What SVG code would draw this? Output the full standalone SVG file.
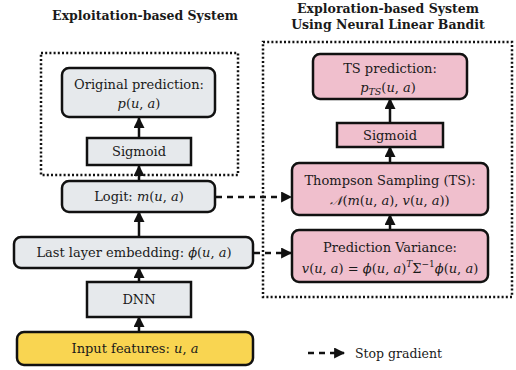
<svg xmlns="http://www.w3.org/2000/svg" width="516" height="370" viewBox="0 0 516 370">
<style>
text{font-family:"DejaVu Serif", serif;fill:#1a1a1a;}
.t{font-size:13px;text-anchor:middle;}
.h{font-size:12.5px;font-weight:bold;text-anchor:middle;}
.i{font-style:italic;}
.g{fill:#e6e9ec;stroke:#111;stroke-width:2.5;}
.p{fill:#f0bfcd;stroke:#111;stroke-width:2.5;}
.y{fill:#f9d551;stroke:#111;stroke-width:2.5;}
.dot{fill:none;stroke:#111;stroke-width:2.5;stroke-dasharray:2 2.2;}
.c{stroke:#111;stroke-width:2.5;marker-end:url(#ah2);}
.d{stroke:#111;stroke-width:2.5;stroke-dasharray:6 5;marker-end:url(#ah2);}
</style>
<defs>
<marker id="ah2" viewBox="0 0 10 10" refX="9" refY="5" markerWidth="4.4" markerHeight="4.4" orient="auto">
<path d="M0,0 L10,5 L0,10 z" fill="#111"/>
</marker>
</defs>

<text class="h" x="145" y="20">Exploitation-based System</text>
<text class="h" x="388" y="13">Exploration-based System</text>
<text class="h" x="388" y="29">Using Neural Linear Bandit</text>

<rect class="dot" x="41" y="53" width="197" height="122"/>
<rect class="dot" x="263" y="42" width="249" height="255"/>

<g id="connectors">
<line class="c" x1="139" y1="138" x2="139" y2="118"/>
<line class="c" x1="139" y1="181" x2="139" y2="166"/>
<line class="c" x1="139" y1="237" x2="139" y2="212"/>
<line class="c" x1="139" y1="282" x2="139" y2="268"/>
<line class="c" x1="139" y1="332" x2="139" y2="317"/>
<line class="c" x1="390" y1="123" x2="390" y2="99"/>
<line class="c" x1="390" y1="163" x2="390" y2="147"/>
<line class="c" x1="390" y1="230" x2="390" y2="215"/>
<line class="d" x1="216" y1="197" x2="291" y2="197"/>
<line class="d" x1="254" y1="253" x2="291" y2="253"/>
<line class="d" x1="308" y1="353" x2="344" y2="353"/>
</g>

<g id="orig">
<rect class="g" x="62" y="68" width="153" height="49" rx="7"/>
<text class="t" x="139" y="89">Original prediction:</text>
<text class="t" x="139" y="108"><tspan class="i">p</tspan>(<tspan class="i">u</tspan>, <tspan class="i">a</tspan>)</text>
</g>
<g id="sig1">
<rect class="g" x="87" y="138" width="104" height="27"/>
<text class="t" x="139" y="156">Sigmoid</text>
</g>
<g id="logit">
<rect class="g" x="62" y="181" width="153" height="31" rx="7"/>
<text class="t" x="139" y="201">Logit: <tspan class="i">m</tspan>(<tspan class="i">u</tspan>, <tspan class="i">a</tspan>)</text>
</g>
<g id="lle">
<rect class="g" x="14" y="237" width="239" height="31" rx="7"/>
<text class="t" x="134" y="257">Last layer embedding: <tspan class="i">ϕ</tspan>(<tspan class="i">u</tspan>, <tspan class="i">a</tspan>)</text>
</g>
<g id="dnn">
<rect class="g" x="87" y="282" width="104" height="35"/>
<text class="t" x="139" y="304">DNN</text>
</g>
<g id="input">
<rect class="y" x="17" y="332" width="236" height="33" rx="7"/>
<text class="t" x="135" y="353">Input features:  <tspan class="i">u</tspan>, <tspan class="i">a</tspan></text>
</g>

<g id="tspred">
<rect class="p" x="313" y="54" width="154" height="45" rx="7"/>
<text class="t" x="390" y="73">TS prediction:</text>
<text class="t" x="388" y="92"><tspan class="i">p</tspan><tspan class="i" font-size="9.5" dy="3">TS</tspan><tspan dy="-3">(</tspan><tspan class="i">u</tspan>, <tspan class="i">a</tspan>)</text>
</g>
<g id="sig2">
<rect class="p" x="337" y="123" width="106" height="24"/>
<text class="t" x="390" y="140">Sigmoid</text>
</g>
<g id="ts">
<rect class="p" x="292" y="163" width="196" height="52" rx="7"/>
<text class="t" x="390" y="185">Thompson Sampling (TS):</text>
<text class="t" x="390" y="205"><tspan class="i">𝒩</tspan>(<tspan class="i">m</tspan>(<tspan class="i">u</tspan>, <tspan class="i">a</tspan>), <tspan class="i">v</tspan>(<tspan class="i">u</tspan>, <tspan class="i">a</tspan>))</text>
</g>
<g id="pv">
<rect class="p" x="292" y="230" width="196" height="52" rx="7"/>
<text class="t" x="390" y="252">Prediction Variance:</text>
<text class="t" x="390" y="273" font-size="12.5"><tspan class="i">v</tspan>(<tspan class="i">u</tspan>, <tspan class="i">a</tspan>) = <tspan class="i">ϕ</tspan>(<tspan class="i">u</tspan>, <tspan class="i">a</tspan>)<tspan class="i" font-size="9" dy="-6">T</tspan><tspan dy="6">Σ</tspan><tspan font-size="9" dy="-6">−1</tspan><tspan class="i" dy="6">ϕ</tspan>(<tspan class="i">u</tspan>, <tspan class="i">a</tspan>)</text>
</g>

<g id="legend">
<text x="355" y="358" font-size="12.5">Stop gradient</text>
</g>
</svg>
